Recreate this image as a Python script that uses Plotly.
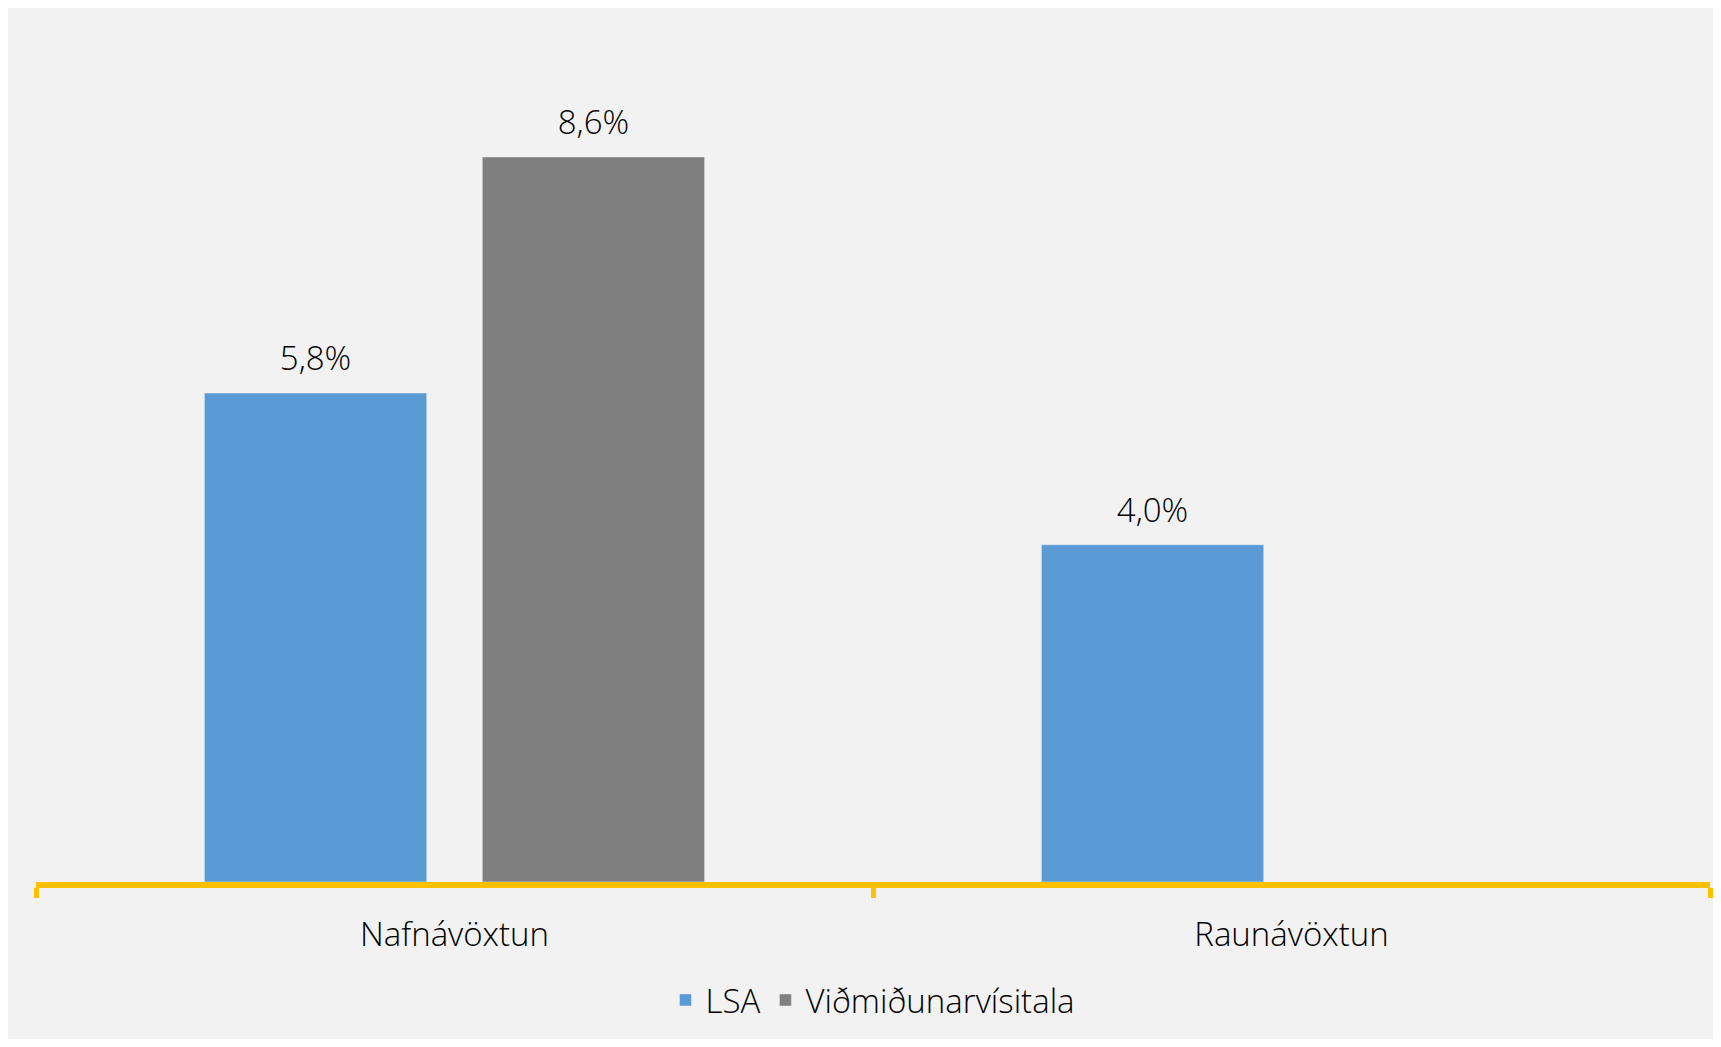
import plotly.graph_objects as go

categories = ["Nafnávöxtun", "Raunávöxtun"]
series_names = ["LSA", "Viðmiðunarvísitala"]
lsa_values = [5.8, 4.0]
vidmid_values = [8.6, None]
colors = ["#5B9BD5", "#7F7F7F"]

FONT = "'Open Sans', Lato, sans-serif"
FS = 33
GAP = 0.336

fig = go.Figure()
for name, vals, col in zip(series_names, [lsa_values, vidmid_values], colors):
    fig.add_trace(go.Bar(
        x=categories, y=vals, name=name, marker_color=col,
        hoverinfo="skip",
    ))
# data labels, grouped like the bars
for name, vals in zip(series_names, [lsa_values, vidmid_values]):
    fig.add_trace(go.Scatter(
        x=categories, y=vals, mode="markers+text", showlegend=False,
        text=[None if v is None else f"{v:.1f}%".replace(".", ",") for v in vals],
        textposition="top center",
        textfont=dict(size=FS, color="#000000", family=FONT, weight=300),
        marker=dict(size=22, opacity=0),
        cliponaxis=False, hoverinfo="skip",
    ))

fig.update_layout(
    width=1713, height=1031,
    margin=dict(l=28, r=11, t=31, b=151),
    paper_bgcolor="#F2F2F2", plot_bgcolor="#F2F2F2",
    barmode="group", bargap=GAP, bargroupgap=0.2,
    scattermode="group", scattergap=GAP,
    separators=",.",
    font=dict(family=FONT, size=FS, color="#000000", weight=300),
    showlegend=True,
    legend=dict(orientation="h", x=0.5, xanchor="center", y=-0.14, yanchor="middle",
                font=dict(size=FS, color="#000000", weight=300), bgcolor="rgba(0,0,0,0)",
                itemwidth=30),
    xaxis=dict(showline=True, linecolor="#FFC000", linewidth=6,
               ticks="outside", tickson="boundaries", ticklen=10, tickwidth=5,
               tickcolor="#FFC000", ticklabelstandoff=18,
               tickfont=dict(size=FS, color="#000000", weight=300),
               showgrid=False, zeroline=False),
    yaxis=dict(visible=False, range=[0, 10], showgrid=False, zeroline=False),
)

fig.write_html("out.html")
